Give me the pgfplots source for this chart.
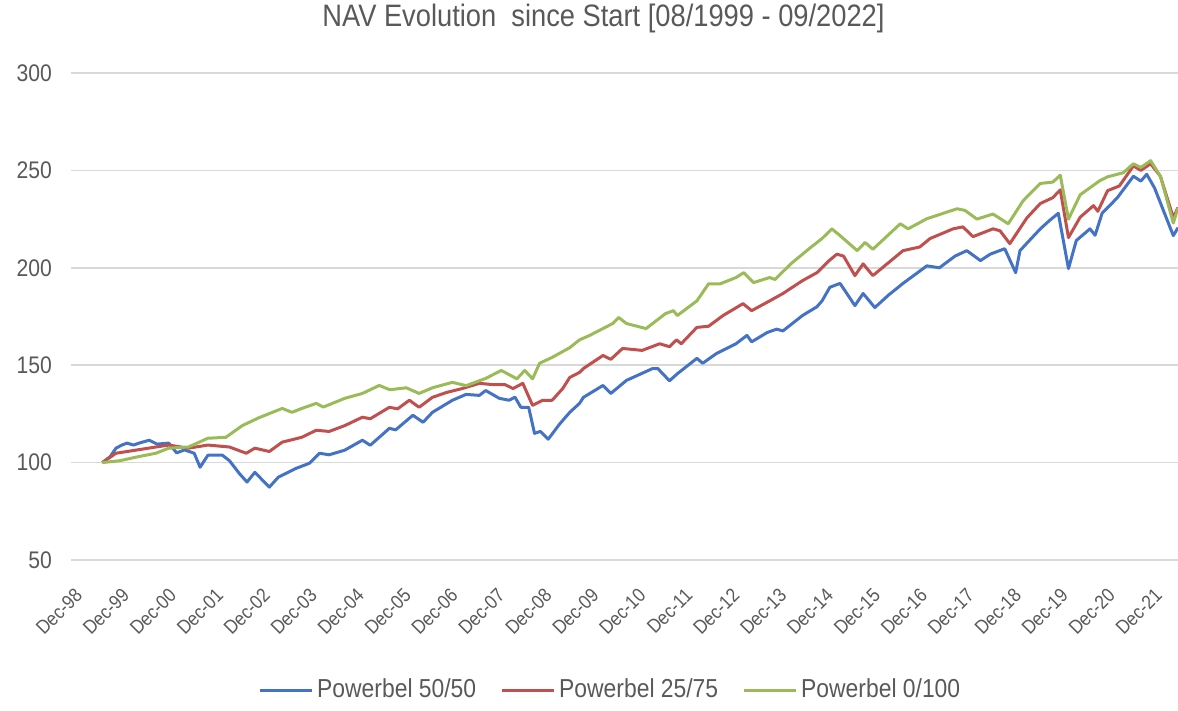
\documentclass[border=0pt]{standalone}
\usepackage{fontspec}
\setmainfont{Liberation Sans}[FakeStretch=0.88]
\usepackage{pgfplots}
\pgfplotsset{compat=1.18}
\definecolor{cBlue}{HTML}{4472C4}
\definecolor{cRed}{HTML}{C0504D}
\definecolor{cGreen}{HTML}{9BBB59}
\definecolor{txt}{HTML}{595959}
\definecolor{gridc}{HTML}{D9D9D9}
\begin{document}
\begin{tikzpicture}
\path[use as bounding box] (-35.5pt,-75.5pt) rectangle (553.5pt,280pt);
\begin{axis}[
  at={(0,0)}, anchor=south west,
  width=553.5pt, height=243.5pt, scale only axis,
  xmin=0, xmax=283, ymin=50, ymax=300,
  ytick={50,100,...,300},
  xtick={0,12,...,276},
  xticklabels={Dec-98,Dec-99,Dec-00,Dec-01,Dec-02,Dec-03,Dec-04,Dec-05,Dec-06,Dec-07,Dec-08,Dec-09,Dec-10,Dec-11,Dec-12,Dec-13,Dec-14,Dec-15,Dec-16,Dec-17,Dec-18,Dec-19,Dec-20,Dec-21},
  /pgf/number format/assume math mode=true,
  axis line style={draw=none},
  major tick length=0pt,
  ymajorgrids, grid style={gridc, line width=0.8pt},
  yticklabel style={font=\fontsize{12}{14}\selectfont, text=txt, anchor=east, xshift=-6pt},
  xticklabel style={font=\fontsize{9.8}{12}\selectfont, text=txt, rotate=45, anchor=north east, xshift=-5pt, yshift=-7pt},
  title={NAV Evolution\ \ since Start [08/1999 - 09/2022]},
  title style={font=\fontsize{15.5}{18}\selectfont, text=txt, at={(0.481,1.088)}, anchor=center},
  legend style={at={(0.488,-0.267)}, anchor=center, draw=none, fill=none, legend columns=3,
    font=\fontsize{13}{15}\selectfont, text=txt,
    /tikz/every even column/.append style={column sep=10pt}},
  legend image code/.code={\draw[#1, line width=1.5pt] (0pt,0pt) -- (26pt,0pt);},
  every axis plot/.append style={line width=1.5pt, line join=round, mark=none},
]
\addplot[cBlue] coordinates {
(8,100) (10,103) (11.5,107.4) (13,109) (14.3,110) (16,109) (17.4,110) (20,111.5) (22,109.5) (25,110) (27,105) (29,106.5) (31.5,104.8) (33,97.6) (35,103.8) (38.7,103.8) (40.5,101) (43,94.5) (45,90) (47,95) (50.7,87.4) (53,92.5) (57.5,97) (61,99.7) (63.5,104.8) (66,104) (70,106.4) (74.5,111.5) (76.5,108.9) (81.4,117.6) (83,116.8) (87.4,124.3) (90,120.7) (92.4,125.8) (97.5,132) (101,135) (104.4,134.5) (106,137) (109.5,133) (112,132) (113.5,133.6) (115,128.4) (117,128.4) (118.5,115) (120,116) (122,112) (125,120) (127.5,125.8) (130,130.4) (131,133.5) (136,139.6) (138,135.5) (142,142.2) (148.7,148.3) (150,148.3) (153,142) (155,145.6) (160,153.5) (161.5,151) (165,156) (170,161) (172.8,165.3) (174,162) (178,166.8) (180.4,168.5) (182,167.6) (187,175.5) (190.7,180) (192,183) (194,190) (196.6,192) (200.4,180.6) (202.5,186.8) (205.5,179.6) (209,186) (212.7,192) (218.8,201) (222,200) (226,206) (229,208.8) (232.5,203.7) (235,207) (238.7,209.8) (241.5,197.5) (242.6,208.8) (245,214) (247.8,220) (250,224) (252.4,228) (255,199.6) (257,214) (260.5,220) (261.8,216.7) (263.6,228) (267.5,236) (271.6,247) (273.5,244.5) (275,248) (277,241) (281.8,216.5) (283,220.6)
};
\addlegendentry{Powerbel 50/50}
\addplot[cRed] coordinates {
(8,100) (11.5,104.8) (16.6,106.4) (21.7,108) (25,109) (30,107.4) (35,109) (40.5,108) (44.8,104.8) (47,107.4) (50.7,105.7) (54,110.5) (59,113) (62.7,116.6) (66,116) (70,119) (74.5,123.3) (76.5,122.5) (81.4,128.4) (83.5,127.6) (86.5,132) (89,128.4) (92.4,133.5) (96,136) (100,138) (104.4,140.7) (108,140) (111,140) (113,138) (115.5,140.7) (118,129.4) (120.6,132) (123,132) (125.7,138) (127.5,143.7) (130,146.3) (131,148.3) (136,155) (138,153) (141,158.6) (146,157.6) (150.5,161) (153,159.5) (154.8,163) (156,161) (160,169.4) (163,170) (166.7,175.5) (171.8,181.6) (174,178) (178.6,183) (182,186.8) (187,193.4) (190.7,197.5) (192,200) (194,204) (195.8,207) (197.5,206) (200.4,196) (202.5,202) (205,196) (212.7,208.8) (217,210.7) (219.6,215) (225.5,220) (228,221) (230.6,216) (235.7,220) (237.5,219) (240,212.4) (244.4,225.7) (247.8,233) (251,236) (252.9,240) (255,215.5) (258,226) (261.4,231.9) (262.5,229) (265,239.6) (268,242) (271.6,252.3) (273.5,250) (276,253.4) (278.5,247) (281.8,225.7) (283,231)
};
\addlegendentry{Powerbel 25/75}
\addplot[cGreen] coordinates {
(8,100) (12.6,101) (16.6,102.8) (21.7,104.8) (25,107.4) (30,108) (35,112.5) (39.6,113) (43.8,119) (48,123) (51.5,125.8) (54,127.8) (56.5,125.8) (59,127.8) (62.7,130.4) (64.5,128.5) (70,133) (74.5,135.5) (78.8,139.6) (81.5,137.4) (85.7,138.4) (89,135.5) (92.4,138.4) (97.5,141.2) (101,139.5) (106,143.2) (110,147.3) (114,143) (116,147.3) (118,143) (119.8,151) (123,154) (127.5,159) (130,163) (132.6,165.3) (138.5,171.4) (140,174.5) (142,171.4) (147,168.8) (152,176.5) (154,178) (155,175.5) (160,183) (163,191.8) (166,191.8) (170,195) (172,197.5) (174.5,192.4) (178.6,195) (180,194) (184,202) (189,210.3) (192,215) (194.5,220) (196.5,216.7) (201,208.8) (203,213) (205,209.5) (212,222.6) (214,220) (218.8,225.2) (226.5,230.3) (228.5,229.5) (231.6,225) (235.7,227.6) (239.6,222.6) (243.4,234.4) (247.8,243.3) (251,244) (252.9,247.5) (255,225) (258,237.5) (263,244.7) (265,246.7) (269,248.8) (271.6,253.4) (273.5,251.5) (276,255) (278.5,247) (281.8,223) (283,230.8)
};
\addlegendentry{Powerbel 0/100}
\end{axis}
\end{tikzpicture}
\end{document}
